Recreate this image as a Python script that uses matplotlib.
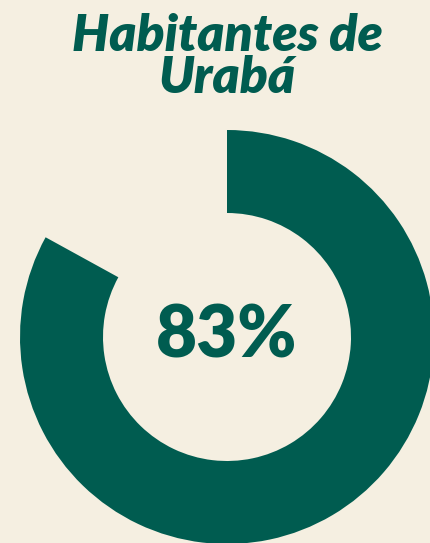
import matplotlib.pyplot as plt

share = [83, 17]
center_label = "83%"
title = "Habitantes de\nUrabá"

bg = "#f5efe1"
green = "#005c50"

fig = plt.figure(figsize=(4.31, 5.43), dpi=100, facecolor=bg)
ax = fig.add_axes([0, 0, 1, 1])
ax.set_facecolor(bg)

ax.pie(share, colors=[green, "none"], startangle=90, counterclock=False,
       center=(227, 543 - 337), radius=207,
       wedgeprops=dict(width=83, edgecolor="none"))
ax.set_xlim(0, 431)
ax.set_ylim(0, 543)
ax.set_aspect("auto")
ax.axis("off")

ax.text(227, 543 - 337, center_label, ha="center", va="center",
        fontsize=51, fontweight="heavy", color=green, family="Lato")
fig.text(227 / 431, 1 - 57 / 543, title, ha="center", va="center",
         fontsize=37, fontweight="heavy", fontstyle="italic", color=green,
         family="Lato", linespacing=0.92)

fig.savefig("out.png", dpi=100, facecolor=bg)
